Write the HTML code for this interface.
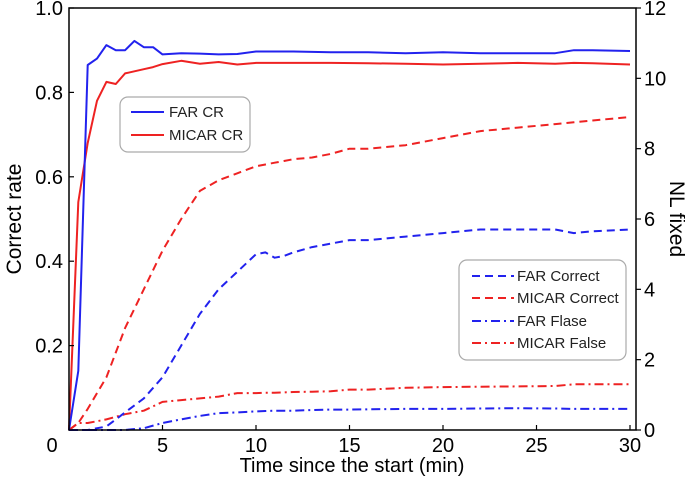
<!DOCTYPE html>
<html><head><meta charset="utf-8"><style>
html,body{margin:0;padding:0;background:#fff;}
svg{display:block;font-family:"Liberation Sans",Arial,sans-serif;}
</style></head><body>
<svg id="chart" width="685" height="491" viewBox="0 0 685 491"></svg>
<script>
const times = [0,0.5,1,1.5,2,2.5,3,3.5,4,4.5,5,6,7,8,9,10,12,14,16,18,20,22,24,26,27,28,30];
const farCR = [0,0.14,0.865,0.88,0.912,0.9,0.9,0.922,0.907,0.907,0.89,0.893,0.892,0.89,0.891,0.897,0.897,0.895,0.895,0.893,0.895,0.893,0.893,0.893,0.9,0.9,0.898];
const micarCR = [0,0.54,0.68,0.78,0.825,0.82,0.845,0.85,0.855,0.86,0.867,0.875,0.868,0.872,0.866,0.87,0.87,0.87,0.869,0.868,0.866,0.868,0.87,0.868,0.87,0.869,0.866];
const tNL = [0,0.5,1,2,3,4,5,6,7,8,9,10,10.5,11,11.5,12,13,14,15,16,18,20,22,24,26,27,28,30];
const farCorrect = [0,0,0,0.1,0.5,0.9,1.5,2.4,3.3,4.0,4.5,5.0,5.05,4.9,4.95,5.05,5.2,5.3,5.4,5.4,5.5,5.6,5.7,5.7,5.7,5.6,5.65,5.7];
const micarCorrect = [0,0.2,0.6,1.5,2.9,4.0,5.1,6.0,6.8,7.1,7.3,7.5,7.55,7.6,7.65,7.7,7.75,7.85,8.0,8.0,8.1,8.3,8.5,8.6,8.7,8.75,8.8,8.9];
const farFalse = [0,0,0,0,0,0.05,0.2,0.3,0.4,0.48,0.5,0.53,0.54,0.55,0.55,0.55,0.57,0.58,0.58,0.59,0.6,0.6,0.61,0.62,0.61,0.6,0.6,0.6];
const micarFalse = [0,0.2,0.2,0.3,0.45,0.55,0.8,0.85,0.9,0.95,1.05,1.05,1.06,1.06,1.07,1.08,1.09,1.1,1.15,1.15,1.2,1.22,1.23,1.24,1.25,1.3,1.3,1.3];
const xTicks = [0,5,10,15,20,25,30];
const yLeftTicks = [0.2,0.4,0.6,0.8,1.0];
const yLeftLabels = ["0.2","0.4","0.6","0.8","1.0"];
const yRightTicks = [0,2,4,6,8,10,12];

const L=69,R=636,T=8,B=430;
const x=t=>L+t*18.7;
const yl=v=>B-v*(B-T);
const yr=v=>B-v*(B-T)/12;
const svg=document.getElementById('chart');
const NS='http://www.w3.org/2000/svg';
function mk(tag,attrs,parent){const e=document.createElementNS(NS,tag);for(const k in attrs)e.setAttribute(k,attrs[k]);(parent||svg).appendChild(e);return e;}
function txt(s,attrs){const e=mk('text',attrs);e.textContent=s;return e;}

function line(ts,vals,yf,color,dash,name){
  const d=ts.map((t,i)=>(i?'L':'M')+x(t).toFixed(1)+','+yf(vals[i]).toFixed(1)).join('');
  const p=mk('path',{d:d,fill:'none',stroke:color,'stroke-width':2,'stroke-dasharray':dash||'none','stroke-linejoin':'round'});
  
  
}
line(tNL,farFalse,yr,'#2222ee','9,4,2,4','far-false-line');
line(tNL,micarFalse,yr,'#ee2222','9,4,2,4','micar-false-line');
line(tNL,farCorrect,yr,'#2222ee','8,5','far-correct-line');
line(tNL,micarCorrect,yr,'#ee2222','8,5','micar-correct-line');
line(times,micarCR,yl,'#ee2222',null,'micar-cr-line');
line(times,farCR,yl,'#2222ee',null,'far-cr-line');

const frame=mk('rect',{x:L,y:T,width:R-L,height:B-T,fill:'none',stroke:'#000','stroke-width':1.5});



xTicks.forEach(t=>{
  mk('line',{x1:x(t),x2:x(t),y1:B,y2:B-5,stroke:'#000','stroke-width':1.2});
  const e=txt(String(t),{x:t===0?52:x(t),y:B+22,'font-size':20,'text-anchor':'middle',fill:'#000'});
  
  
});
yLeftTicks.forEach((v,i)=>{
  mk('line',{x1:L,x2:L+5,y1:yl(v),y2:yl(v),stroke:'#000','stroke-width':1.2});
  const e=txt(yLeftLabels[i],{x:L-6,y:yl(v)+7,'font-size':20,'text-anchor':'end',fill:'#000'});
  
  
});
yRightTicks.forEach(v=>{
  mk('line',{x1:R,x2:R+5,y1:yr(v),y2:yr(v),stroke:'#000','stroke-width':1.2});
  const e=txt(String(v),{x:R+8,y:yr(v)+7,'font-size':20,'text-anchor':'start',fill:'#000'});
  
  
});
let e=txt('Time since the start (min)',{x:352,y:472,'font-size':20,'text-anchor':'middle'});


e=txt('Correct rate',{x:0,y:0,'font-size':21,'text-anchor':'middle',transform:'translate(21,219) rotate(-90)'});


e=txt('NL fixed',{x:0,y:0,'font-size':21,'text-anchor':'middle',transform:'translate(670,219) rotate(90)'});



function legend(name,bx,by,bw,bh,items){
  const g=mk('g',{});
  
  
  mk('rect',{x:bx,y:by,width:bw,height:bh,rx:8,fill:'#fff',stroke:'#aaa','stroke-width':1.2},g);
  items.forEach(it=>{
    mk('line',{x1:it.x1,x2:it.x2,y1:it.y,y2:it.y,stroke:it.c,'stroke-width':2,'stroke-dasharray':it.d||'none'},g);
    const t=mk('text',{x:it.tx,y:it.y+5,'font-size':15,fill:'#222'},g);
    t.textContent=it.label;
    
    
  });
}
legend('legend-cr',120,97,130,55,[
  {x1:131,x2:164,y:112,c:'#2222ee',label:'FAR CR',tx:169},
  {x1:131,x2:164,y:135,c:'#ee2222',label:'MICAR CR',tx:169}]);
legend('legend-nl',459,260,167,100,[
  {x1:472,x2:514,y:276,c:'#2222ee',d:'8,5',label:'FAR Correct',tx:517},
  {x1:472,x2:514,y:298,c:'#ee2222',d:'8,5',label:'MICAR Correct',tx:517},
  {x1:472,x2:514,y:321,c:'#2222ee',d:'9,4,2,4',label:'FAR Flase',tx:517},
  {x1:472,x2:514,y:343,c:'#ee2222',d:'9,4,2,4',label:'MICAR False',tx:517}]);
</script>
</body></html>
